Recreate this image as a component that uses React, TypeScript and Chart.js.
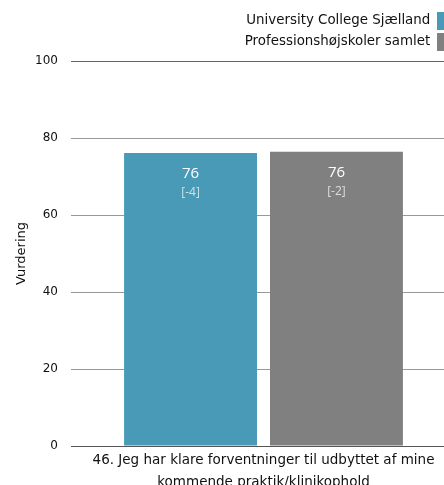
import React, { useEffect, useRef } from 'react';
import { Chart, registerables } from 'chart.js';

Chart.register(...registerables);

const categories: string[][] = [
  ['46. Jeg har klare forventninger til udbyttet af mine', 'kommende praktik/klinikophold'],
];
const seriesNames: string[] = ['University College Sjælland', 'Professionshøjskoler samlet'];
const ucsjValues: number[] = [76.1];
const totalValues: number[] = [76.4];
const ucsjDiffs: number[] = [-4];
const totalDiffs: number[] = [-2];
const yMin = 0;
const yMax = 100;
const yStep = 20;
const yTitle = 'Vurdering';

const colors = ['#489ab7', '#808080'];

const valueLabelPlugin = {
  id: 'valueLabels',
  afterDatasetsDraw(chart: any) {
    const ctx = chart.ctx;
    const diffs = [ucsjDiffs, totalDiffs];
    chart.data.datasets.forEach((ds: any, di: number) => {
      const meta = chart.getDatasetMeta(di);
      meta.data.forEach((el: any, i: number) => {
        const v = ds.data[i];
        ctx.save();
        ctx.textAlign = 'center';
        ctx.textBaseline = 'alphabetic';
        ctx.fillStyle = '#ffffff';
        ctx.font = '15px "Open Sans"';
        ctx.fillText(String(Math.round(v)), el.x, el.y + 25);
        ctx.fillStyle = 'rgba(255,255,255,0.72)';
        ctx.font = '12px "Open Sans"';
        ctx.fillText('[' + diffs[di][i] + ']', el.x, el.y + 43);
        ctx.restore();
      });
    });
  },
};

export default function App() {
  const ref = useRef<HTMLCanvasElement | null>(null);
  useEffect(() => {
    if (!ref.current) return;
    Chart.defaults.font.family = '"DejaVu Sans", Verdana, sans-serif';
    const chart = new Chart(ref.current, {
      type: 'bar',
      data: {
        labels: categories as any,
        datasets: [
          {
            label: seriesNames[0],
            data: ucsjValues,
            backgroundColor: colors[0],
            borderWidth: 0,
            categoryPercentage: 0.758,
            barPercentage: 0.911,
          },
          {
            label: seriesNames[1],
            data: totalValues,
            backgroundColor: colors[1],
            borderWidth: 0,
            categoryPercentage: 0.758,
            barPercentage: 0.911,
          },
        ],
      },
      options: {
        responsive: false,
        animation: false,
        devicePixelRatio: 1,
        layout: { padding: { top: 1, left: 0, right: 0, bottom: 0 } },
        plugins: {
          tooltip: { enabled: false },
          legend: {
            display: true,
            position: 'top',
            fullSize: false,
            align: 'start',
            rtl: true,
            labels: {
              boxWidth: 16,
              boxHeight: 18,
              padding: 3,
              color: '#111111',
              font: { size: 13.4 },
            },
          },
        },
        scales: {
          x: {
            grid: { display: false },
            border: { display: true, color: '#555555', width: 1 },
            ticks: {
              color: '#111111',
              font: { size: 13.5, lineHeight: 1.6 },
              padding: -4,
              maxRotation: 0,
              autoSkip: false,
            },
            afterFit: (scale: any) => {
              scale.height = 46;
            },
          },
          y: {
            min: yMin,
            max: yMax,
            border: { display: false },
            grid: {
              drawTicks: false,
              color: (c: any) => (c.tick && (c.tick.value === 0 ? '#555555' : c.tick.value === 100 ? '#666666' : '#999999')),
              lineWidth: 1,
            },
            ticks: {
              stepSize: yStep,
              color: '#111111',
              font: { size: 12 },
              padding: 13,
            },
            title: {
              display: true,
              text: yTitle,
              color: '#111111',
              font: { size: 13 },
              padding: { top: 6, bottom: 5 },
            },
            afterFit: (scale: any) => {
              scale.width = 63;
            },
          },
        },
      },
      plugins: [valueLabelPlugin],
    });
    return () => chart.destroy();
  }, []);

  return (
    <div style={{ position: 'fixed', left: 8, top: 8, width: 436, height: 477, overflow: 'hidden' }}>
      <canvas ref={ref} width={448} height={484} style={{ display: 'block', width: 448, height: 484 }} />
    </div>
  );
}
